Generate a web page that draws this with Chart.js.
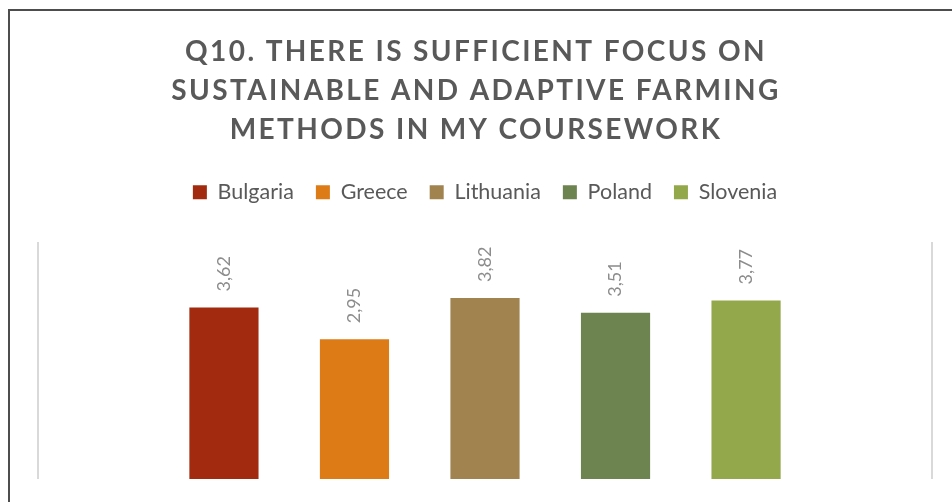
<!DOCTYPE html>
<html>
<head>
<meta charset="utf-8">
<title>Q10 – sustainable and adaptive farming</title>
<script src="https://cdn.jsdelivr.net/npm/chart.js@4.4.1/dist/chart.umd.min.js"></script>
<style>
  html, body { margin: 0; padding: 0; background: #ffffff; }
  canvas { display: block; }
</style>
</head>
<body>
<canvas id="q10Chart" width="952" height="502"></canvas>
<script>
// Mean scores per country
const countries = ['Bulgaria', 'Greece', 'Lithuania', 'Poland', 'Slovenia'];
const scores = [3.62, 2.95, 3.82, 3.51, 3.77];
const barColors = ['#a22b0f', '#dd7b17', '#a0834f', '#6e8450', '#93a84a'];
const titleLines = [
    'Q10. THERE IS SUFFICIENT FOCUS ON',
    'SUSTAINABLE AND ADAPTIVE FARMING',
    'METHODS IN MY COURSEWORK'
];
const scoreMin = 0;
const scoreMax = 5;

// comma decimals, as in the survey report
function formatScore(v) {
    return v.toFixed(2).replace('.', ',');
}

// dark frame round the whole chart (runs off the right/bottom edge)
const chartFrame = {
    id: 'chartFrame',
    beforeDraw(chart) {
        const ctx = chart.ctx;
        ctx.save();
        ctx.strokeStyle = '#4d4d4d';
        ctx.lineWidth = 2;
        ctx.strokeRect(9, 10, 1200, 800);
        ctx.restore();
    }
};

// letter-spaced title centred on the page, a bit of room under the legend
const layoutTweaks = {
    id: 'layoutTweaks',
    afterInit(chart) {
        const title = chart.titleBlock;
        const drawTitle = title.draw.bind(title);
        title.draw = function () {
            chart.ctx.save();
            chart.ctx.letterSpacing = '2.4px';
            chart.ctx.translate(-9, 0);
            drawTitle();
            chart.ctx.restore();
        };
        const legend = chart.legend;
        const fitLegend = legend.fit.bind(legend);
        legend.fit = function () {
            fitLegend();
            this.height += 29;
        };
    }
};

// rotated value above each bar
const valueLabels = {
    id: 'valueLabels',
    afterDatasetsDraw(chart) {
        const ctx = chart.ctx;
        ctx.save();
        ctx.fillStyle = '#8c8c8c';
        ctx.font = '18px Lato';
        ctx.textAlign = 'left';
        ctx.textBaseline = 'middle';
        chart.data.datasets.forEach((ds, i) => {
            const meta = chart.getDatasetMeta(i);
            meta.data.forEach((bar, j) => {
                ctx.save();
                ctx.translate(bar.x, bar.y - 16);
                ctx.rotate(-Math.PI / 2);
                ctx.fillText(formatScore(ds.data[j]), 0, 0);
                ctx.restore();
            });
        });
        ctx.restore();
    }
};

const datasets = countries.map((name, i) => ({
    label: name,
    data: [scores[i]],
    backgroundColor: barColors[i],
    borderWidth: 0,
    categoryPercentage: 0.73,
    barPercentage: 0.53
}));

const ctx = document.getElementById('q10Chart').getContext('2d');
const q10Chart = new Chart(ctx, {
    type: 'bar',
    data: {
        labels: [''],
        datasets: datasets
    },
    options: {
        responsive: false,
        animation: false,
        layout: {
            padding: { left: 38, right: 20, top: 0, bottom: 23 }
        },
        scales: {
            x: {
                grid: { color: '#d9d9d9', lineWidth: 2, drawTicks: false },
                border: { display: false },
                ticks: { display: false }
            },
            y: {
                display: false,
                min: scoreMin,
                max: scoreMax
            }
        },
        plugins: {
            title: {
                display: true,
                text: titleLines,
                color: '#595959',
                font: { family: 'Lato', weight: 'bold', size: 28, lineHeight: 1.4 },
                padding: { top: 32, bottom: 10 }
            },
            legend: {
                position: 'top',
                labels: {
                    color: '#595959',
                    font: { family: 'Lato', size: 21.5 },
                    boxWidth: 14,
                    boxHeight: 14,
                    padding: 22
                }
            },
            tooltip: { enabled: false }
        }
    },
    plugins: [chartFrame, layoutTweaks, valueLabels]
});
</script>
</body>
</html>
